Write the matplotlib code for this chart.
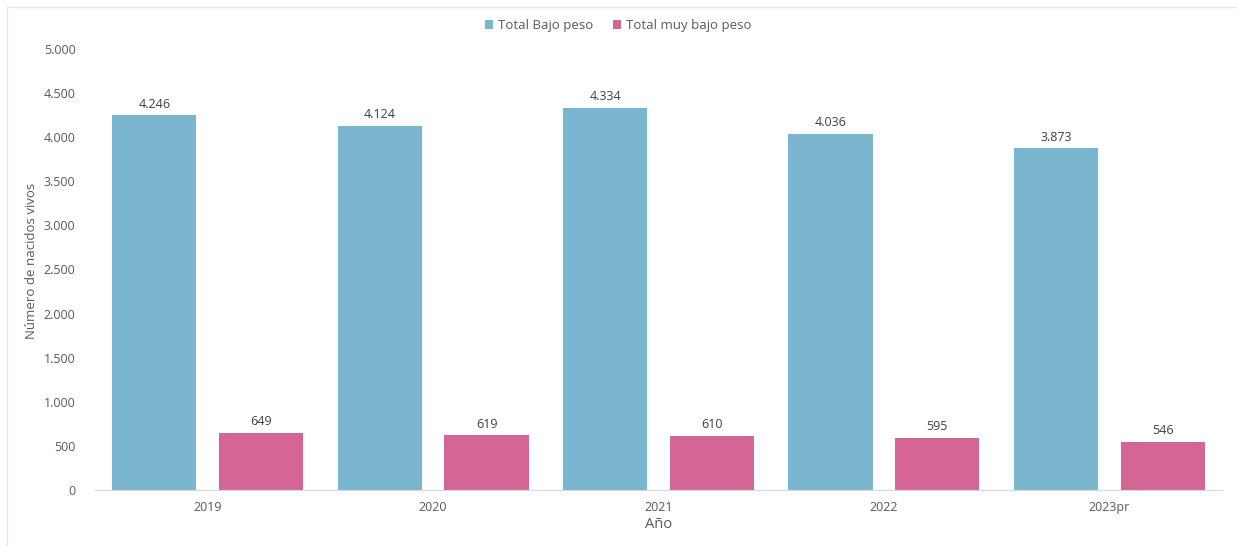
import matplotlib
matplotlib.use("Agg")
import matplotlib.pyplot as plt
import numpy as np

years = ["2019", "2020", "2021", "2022", "2023pr"]
bajo_peso = [4246, 4124, 4334, 4036, 3873]
muy_bajo_peso = [649, 619, 610, 595, 546]
series_names = ["Total Bajo peso", "Total muy bajo peso"]
yticks = [0, 500, 1000, 1500, 2000, 2500, 3000, 3500, 4000, 4500, 5000]

def fmt(v):
    return f"{v:,}".replace(",", ".")

plt.rcParams['font.family'] = ['Open Sans', 'DejaVu Sans']
txt = '#595959'
blue = '#7AB6D0'
pink = '#D46595'

fig = plt.figure(figsize=(12.37, 5.46), dpi=100)
ax = fig.add_axes([0.0768, 0.1026, 0.9111, 0.8077])

x = np.arange(len(years))
w = 0.373
b1 = ax.bar(x - 0.237, bajo_peso, w, color=blue, label=series_names[0])
b2 = ax.bar(x + 0.237, muy_bajo_peso, w, color=pink, label=series_names[1])
for bars, vals in ((b1, bajo_peso), (b2, muy_bajo_peso)):
    for r, v in zip(bars, vals):
        ax.annotate(fmt(v), (r.get_x() + r.get_width() / 2, v), xytext=(0, 3.5),
                    textcoords='offset points', ha='center', va='bottom',
                    fontsize=9, color='#404040')

ax.set_xlim(-0.5, 4.5)
ax.set_ylim(0, 5000)
ax.set_yticks(yticks)
ax.set_yticklabels([fmt(v) for v in yticks])
ax.set_xticks(x)
ax.set_xticklabels(years)
ax.tick_params(axis='both', length=0, labelsize=9, colors=txt)
ax.tick_params(axis='y', pad=14)
ax.tick_params(axis='x', pad=8)
for s in ('top', 'right', 'left'):
    ax.spines[s].set_visible(False)
ax.spines['bottom'].set_color('#d9d9d9')
ax.set_ylabel("Número de nacidos vivos", fontsize=9.5, color=txt)
ax.yaxis.set_label_coords(-0.051, 0.52)
ax.set_xlabel("Año", fontsize=10.5, color=txt, labelpad=2)

fig.legend(loc='upper center', bbox_to_anchor=(0.5, 0.987), ncol=2, frameon=False,
           fontsize=9.5, labelcolor=txt, handlelength=0.6, handleheight=0.6,
           handletextpad=0.4, columnspacing=1.5)

fig.add_artist(plt.Line2D([0.006, 1.0], [0.987, 0.987], color='#e6e6e6', lw=1, transform=fig.transFigure))
fig.add_artist(plt.Line2D([0.006, 0.006], [0.0, 0.987], color='#e6e6e6', lw=1, transform=fig.transFigure))

fig.savefig("out.png", dpi=100)
